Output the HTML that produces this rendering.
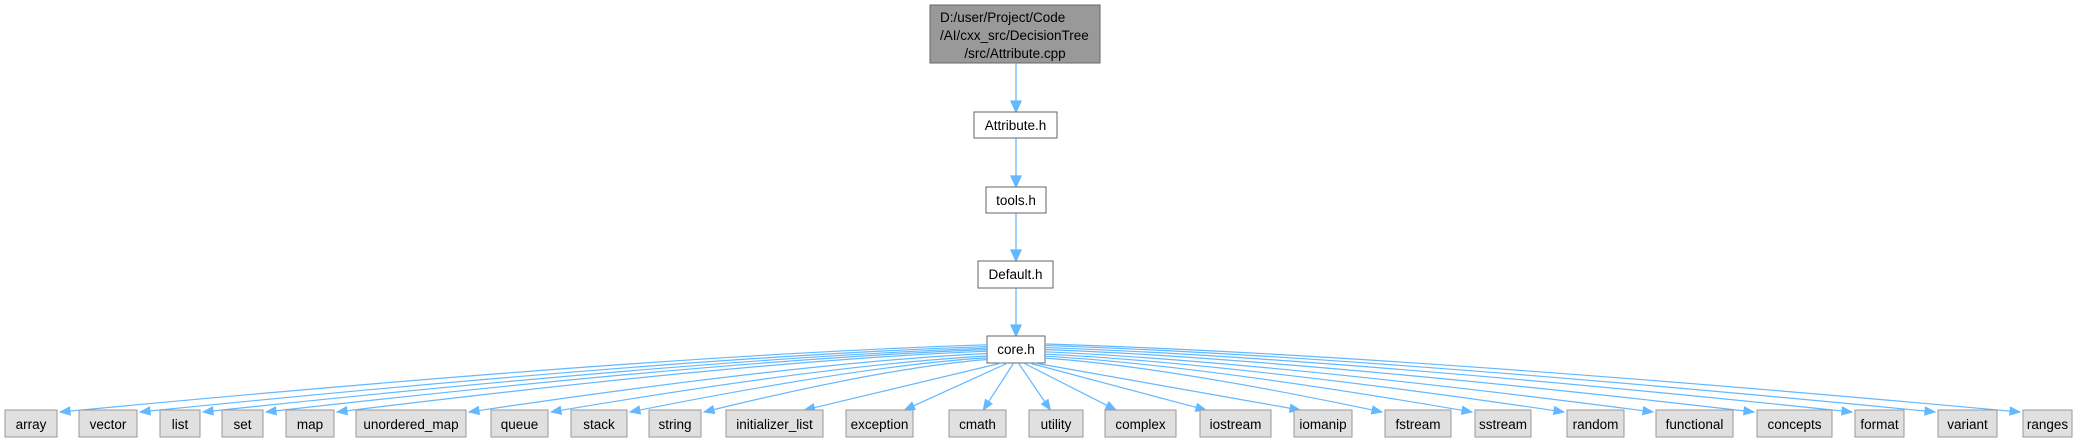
<!DOCTYPE html>
<html><head><meta charset="utf-8"><style>
html,body{margin:0;padding:0;background:#fff;}
svg{display:block;font-family:"Liberation Sans",Arial,sans-serif;}
</style></head><body>
<svg id="s" width="2089" height="443" viewBox="0 0 2089 443" xmlns="http://www.w3.org/2000/svg">
<rect x="930" y="5" width="170" height="58" fill="#999" stroke="#666"/>
<text x="940" y="22" font-size="13.5">D:/user/Project/Code</text>
<text x="940" y="40" font-size="13.5">/AI/cxx_src/DecisionTree</text>
<text x="1015" y="58" font-size="13.5" text-anchor="middle">/src/Attribute.cpp</text>
<g stroke="#63b8ff" stroke-width="1.3" fill="#63b8ff">
<line x1="1016" y1="63" x2="1016" y2="102"/><polygon points="1011,101 1021,101 1016,112"/>
<line x1="1016" y1="138" x2="1016" y2="177"/><polygon points="1011,176 1021,176 1016,187"/>
<line x1="1016" y1="213" x2="1016" y2="251"/><polygon points="1011,250 1021,250 1016,261"/>
<line x1="1016" y1="288" x2="1016" y2="326"/><polygon points="1011,325 1021,325 1016,336"/>
</g>
<g fill="#fff" stroke="#666">
<rect x="974" y="112" width="83" height="26"/>
<rect x="986" y="187" width="60" height="26"/>
<rect x="978" y="261" width="75" height="27"/>
<rect x="987" y="336" width="58" height="27"/>
</g>
<g font-size="13.5" text-anchor="middle">
<text x="1015.5" y="130">Attribute.h</text>
<text x="1016" y="205">tools.h</text>
<text x="1015.5" y="279">Default.h</text>
<text x="1016" y="354">core.h</text>
</g>
<g id="edges" stroke="#63b8ff" stroke-width="1.2" fill="none"></g>
<g id="heads" fill="#63b8ff" stroke="#63b8ff"></g>
<g id="nodes" fill="#e0e0e0" stroke="#999"></g>
<g id="labels" font-size="13.5" text-anchor="middle" fill="#000"></g>
</svg>
<script>
(function(){
var N=[["array",5,57],["vector",79,137],["list",160,200],["set",222,263],["map",286,334],["unordered_map",356,466],["queue",491,548],["stack",571,627],["string",649,701],["initializer_list",726,823],["exception",846,913],["cmath",949,1006],["utility",1029,1083],["complex",1105,1176],["iostream",1200,1271],["iomanip",1294,1352],["fstream",1385,1451],["sstream",1475,1531],["random",1567,1624],["functional",1656,1733],["concepts",1757,1832],["format",1855,1904],["variant",1938,1997],["ranges",2023,2072]];
var ns="http://www.w3.org/2000/svg";
function el(t,a,p){var e=document.createElementNS(ns,t);for(var k in a)e.setAttribute(k,a[k]);document.getElementById(p).appendChild(e);return e;}
var cx=1016,T0=410;
N.forEach(function(n){
 var l=n[1],r=n[2],c=(l+r)/2,dx=c-cx;
 el("rect",{x:l,y:T0,width:r-l,height:27},"nodes");
 var t=el("text",{x:c,y:T0+19},"labels");t.textContent=n[0];
 var sx,sy,ex,ey,qx,qy;
 if(Math.abs(dx)>320){
  var k=Math.min(1,(Math.abs(dx)-320)/700);
  sy=360-k*16; sx=dx<0?987:1045;
  ex=dx<0?r+3:l-3; ey=T0+2;
  qx=sx+(ex-sx)*0.35; qy=sy+(ey-sy)*0.15;
 } else {
  sx=cx+dx*0.06; sy=363;
  sx=Math.max(992,Math.min(1040,sx));
  ex=c+(dx<0?Math.min(30,(r-l)/2-6)*Math.min(1,-dx/150):-Math.min(30,(r-l)/2-6)*Math.min(1,dx/150)); ey=T0;
  qx=(sx+ex)/2; qy=(sy+ey)/2;
 }
 var ux=ex-qx,uy=ey-qy,L=Math.hypot(ux,uy);ux/=L;uy/=L;
 var bx=ex-ux*10,by=ey-uy*10;
 el("path",{d:"M"+sx+","+sy+" Q"+qx+","+qy+" "+bx+","+by},"edges");
 var px=-uy*4,py=ux*4;
 el("polygon",{points:(bx+px)+","+(by+py)+" "+(bx-px)+","+(by-py)+" "+ex+","+ey},"heads");
});
})();
</script>
</body></html>
